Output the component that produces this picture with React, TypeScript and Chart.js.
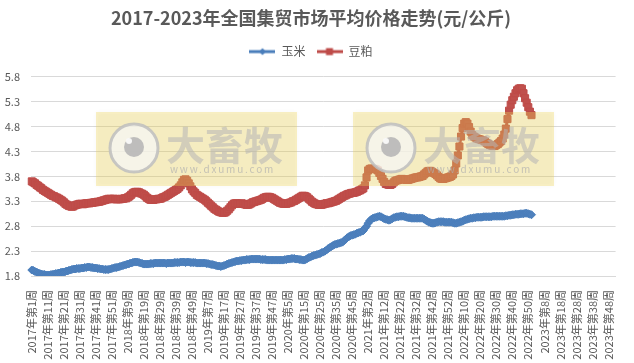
import React, { useEffect, useRef } from 'react';
import { Chart, registerables } from 'chart.js';

Chart.register(...registerables);

const TITLE = '2017-2023年全国集贸市场平均价格走势(元/公斤)';
const SERIES_NAMES = ['玉米', '豆粕'];
const YEARS = [2017, 2018, 2019, 2020, 2021, 2022, 2023];
const WEEKS_PER_YEAR = [52, 52, 52, 53, 52, 52, 52];
const Y_TICKS = { min: 1.8, max: 5.8, step: 0.5 };

// 玉米 (corn) weekly prices
const CORN_2017 = [
  1.92, 1.91, 1.89, 1.88, 1.86, 1.85, 1.84, 1.83, 1.83, 1.82,
  1.82, 1.82, 1.83, 1.83, 1.84, 1.85, 1.85, 1.86, 1.87, 1.88,
  1.88, 1.89, 1.90, 1.91, 1.92, 1.93, 1.94, 1.94, 1.95, 1.95,
  1.95, 1.96, 1.96, 1.97, 1.97, 1.98, 1.98, 1.97, 1.97, 1.96,
  1.96, 1.95, 1.95, 1.94, 1.94, 1.93, 1.93, 1.93, 1.93, 1.94,
  1.95, 1.96,
];
const CORN_2018 = [
  1.97, 1.97, 1.98, 1.99, 2.00, 2.01, 2.02, 2.03, 2.04, 2.05,
  2.06, 2.07, 2.08, 2.08, 2.08, 2.07, 2.06, 2.05, 2.04, 2.04,
  2.04, 2.04, 2.05, 2.05, 2.05, 2.06, 2.06, 2.06, 2.06, 2.06,
  2.06, 2.06, 2.05, 2.06, 2.06, 2.06, 2.06, 2.07, 2.07, 2.07,
  2.07, 2.08, 2.08, 2.08, 2.07, 2.08, 2.08, 2.07, 2.07, 2.07,
  2.07, 2.06,
];
const CORN_2019 = [
  2.06, 2.06, 2.06, 2.06, 2.06, 2.05, 2.05, 2.04, 2.03, 2.03,
  2.02, 2.01, 2.00, 2.00, 1.99, 2.00, 2.01, 2.02, 2.04, 2.05,
  2.06, 2.07, 2.08, 2.09, 2.10, 2.10, 2.11, 2.11, 2.12, 2.12,
  2.13, 2.13, 2.13, 2.14, 2.14, 2.14, 2.14, 2.14, 2.14, 2.13,
  2.13, 2.13, 2.13, 2.12, 2.12, 2.12, 2.12, 2.12, 2.12, 2.12,
  2.12, 2.12,
];
const CORN_2020 = [
  2.12, 2.12, 2.13, 2.13, 2.14, 2.14, 2.15, 2.15, 2.15, 2.14,
  2.14, 2.13, 2.13, 2.12, 2.12, 2.13, 2.15, 2.17, 2.18, 2.20,
  2.21, 2.22, 2.23, 2.24, 2.25, 2.27, 2.28, 2.30, 2.32, 2.35,
  2.37, 2.39, 2.41, 2.43, 2.44, 2.45, 2.46, 2.47, 2.48, 2.51,
  2.54, 2.57, 2.59, 2.61, 2.62, 2.63, 2.64, 2.66, 2.67, 2.68,
  2.70, 2.71, 2.76,
];
const CORN_2021 = [
  2.80, 2.86, 2.91, 2.94, 2.96, 2.97, 2.98, 2.99, 3.00, 2.99,
  2.97, 2.95, 2.94, 2.93, 2.92, 2.93, 2.95, 2.97, 2.98, 2.99,
  2.99, 3.00, 3.00, 3.00, 2.99, 2.98, 2.97, 2.97, 2.96, 2.96,
  2.96, 2.96, 2.96, 2.96, 2.96, 2.96, 2.94, 2.92, 2.90, 2.88,
  2.87, 2.86, 2.86, 2.87, 2.88, 2.89, 2.89, 2.89, 2.89, 2.88,
  2.88, 2.88,
];
const CORN_2022 = [
  2.88, 2.88, 2.87, 2.86, 2.86, 2.87, 2.88, 2.89, 2.90, 2.92,
  2.93, 2.94, 2.95, 2.96, 2.96, 2.97, 2.97, 2.98, 2.98, 2.98,
  2.98, 2.99, 2.99, 2.99, 2.99, 2.99, 2.99, 3.00, 3.00, 3.00,
  3.00, 3.00, 3.00, 3.00, 3.00, 3.01, 3.01, 3.02, 3.02, 3.03,
  3.03, 3.04, 3.04, 3.04, 3.05, 3.05, 3.05, 3.06, 3.06, 3.05,
  3.04, 3.03,
];

// 豆粕 (soybean meal) weekly prices
const MEAL_2017 = [
  3.70, 3.68, 3.66, 3.63, 3.61, 3.58, 3.56, 3.53, 3.51, 3.49,
  3.47, 3.45, 3.43, 3.41, 3.40, 3.38, 3.37, 3.35, 3.33, 3.31,
  3.28, 3.25, 3.23, 3.21, 3.20, 3.19, 3.20, 3.22, 3.23, 3.24,
  3.25, 3.25, 3.24, 3.25, 3.26, 3.26, 3.26, 3.27, 3.27, 3.28,
  3.28, 3.29, 3.29, 3.30, 3.31, 3.32, 3.33, 3.34, 3.35, 3.35,
  3.34, 3.35,
];
const MEAL_2018 = [
  3.35, 3.34, 3.34, 3.34, 3.35, 3.35, 3.36, 3.36, 3.38, 3.40,
  3.43, 3.46, 3.48, 3.49, 3.49, 3.48, 3.46, 3.45, 3.43, 3.40,
  3.37, 3.35, 3.33, 3.33, 3.33, 3.34, 3.34, 3.35, 3.35, 3.36,
  3.38, 3.39, 3.41, 3.43, 3.45, 3.47, 3.49, 3.51, 3.53, 3.55,
  3.58, 3.62, 3.68, 3.73, 3.74, 3.71, 3.66, 3.60, 3.54, 3.50,
  3.47, 3.43,
];
const MEAL_2019 = [
  3.41, 3.39, 3.37, 3.35, 3.33, 3.30, 3.27, 3.24, 3.21, 3.18,
  3.15, 3.13, 3.11, 3.09, 3.08, 3.07, 3.07, 3.08, 3.11, 3.14,
  3.18, 3.22, 3.25, 3.26, 3.26, 3.25, 3.25, 3.26, 3.25, 3.24,
  3.23, 3.23, 3.24, 3.26, 3.28, 3.29, 3.30, 3.31, 3.32, 3.33,
  3.35, 3.37, 3.38, 3.39, 3.39, 3.38, 3.37, 3.35, 3.33, 3.31,
  3.29, 3.27,
];
const MEAL_2020 = [
  3.26, 3.25, 3.25, 3.25, 3.26, 3.27, 3.28, 3.30, 3.31, 3.33,
  3.35, 3.37, 3.39, 3.41, 3.41, 3.40, 3.38, 3.35, 3.32, 3.29,
  3.27, 3.25, 3.24, 3.23, 3.23, 3.23, 3.24, 3.25, 3.26, 3.26,
  3.27, 3.28, 3.29, 3.30, 3.31, 3.33, 3.35, 3.37, 3.39, 3.41,
  3.42, 3.44, 3.45, 3.46, 3.47, 3.47, 3.48, 3.49, 3.51, 3.52,
  3.54, 3.56, 3.62,
];
const MEAL_2021 = [
  3.78, 3.92, 3.95, 3.96, 3.95, 3.95, 3.94, 3.92, 3.87, 3.81,
  3.75, 3.69, 3.65, 3.64, 3.63, 3.63, 3.65, 3.68, 3.71, 3.72,
  3.73, 3.74, 3.75, 3.74, 3.74, 3.73, 3.73, 3.74, 3.75, 3.76,
  3.77, 3.78, 3.78, 3.79, 3.80, 3.81, 3.84, 3.87, 3.90, 3.91,
  3.91, 3.89, 3.87, 3.85, 3.82, 3.79, 3.76, 3.75, 3.75, 3.76,
  3.77, 3.78,
];
const MEAL_2022 = [
  3.79, 3.81, 3.84, 3.92, 4.06, 4.22, 4.40, 4.60, 4.77, 4.86,
  4.89, 4.86, 4.79, 4.70, 4.63, 4.60, 4.58, 4.56, 4.55, 4.54,
  4.53, 4.52, 4.50, 4.47, 4.45, 4.43, 4.42, 4.41, 4.41, 4.43,
  4.45, 4.48, 4.51, 4.56, 4.64, 4.76, 4.95, 5.12, 5.24, 5.33,
  5.40, 5.47, 5.53, 5.56, 5.57, 5.56, 5.47, 5.37, 5.28, 5.19,
  5.10, 5.03,
];

const CORN = [...CORN_2017, ...CORN_2018, ...CORN_2019, ...CORN_2020, ...CORN_2021, ...CORN_2022];
const MEAL = [...MEAL_2017, ...MEAL_2018, ...MEAL_2019, ...MEAL_2020, ...MEAL_2021, ...MEAL_2022];

const LABELS: string[] = [];
YEARS.forEach((y, i) => {
  for (let w = 1; w <= WEEKS_PER_YEAR[i]; w++) LABELS.push(`${y}年第${w}周`);
});

const FONT = '"Noto Sans CJK SC", "Noto Sans", sans-serif';
const TEXT = '#595959';
const GRID = '#d9d9d9';
const BLUE = '#4A7EBB';
const RED = '#BE4B48';

function legendIcon(color: string, shape: 'diamond' | 'square') {
  const c = document.createElement('canvas');
  c.width = 26;
  c.height = 10;
  const g = c.getContext('2d')!;
  g.strokeStyle = color;
  g.lineWidth = 3;
  g.beginPath();
  g.moveTo(0, 5);
  g.lineTo(26, 5);
  g.stroke();
  g.fillStyle = color;
  if (shape === 'diamond') {
    g.beginPath();
    g.moveTo(13, 1.5);
    g.lineTo(16.5, 5);
    g.lineTo(13, 8.5);
    g.lineTo(9.5, 5);
    g.closePath();
    g.fill();
  } else {
    g.fillRect(9.5, 1.5, 7, 7);
  }
  return c;
}

const watermarkPlugin = {
  id: 'watermark',
  afterDatasetsDraw(chart: any) {
    const ctx = chart.ctx as CanvasRenderingContext2D;
    const boxes = [96, 353];
    boxes.forEach((x0) => {
      ctx.save();
      ctx.shadowColor = 'rgba(0,0,0,0.10)';
      ctx.shadowBlur = 4;
      ctx.fillStyle = 'rgba(240,215,90,0.35)';
      ctx.fillRect(x0, 112, 201, 74);
      ctx.shadowColor = 'transparent';
      ctx.shadowBlur = 0;
      const cx = x0 + 38;
      const cy = 148;
      ctx.fillStyle = 'rgba(245,245,245,0.75)';
      ctx.beginPath();
      ctx.arc(cx, cy, 24, 0, Math.PI * 2);
      ctx.fill();
      ctx.strokeStyle = 'rgba(190,190,190,0.85)';
      ctx.lineWidth = 3;
      ctx.stroke();
      ctx.fillStyle = 'rgba(180,180,180,0.85)';
      ctx.beginPath();
      ctx.arc(cx, cy - 1, 10, 0, Math.PI * 2);
      ctx.fill();
      ctx.fillStyle = 'rgba(250,250,250,0.95)';
      ctx.beginPath();
      ctx.arc(cx - 5, cy - 7, 3, 0, Math.PI * 2);
      ctx.fill();
      ctx.fillStyle = 'rgba(180,180,180,0.55)';
      ctx.font = `bold 39px ${FONT}`;
      ctx.textBaseline = 'middle';
      ctx.textAlign = 'left';
      ctx.fillText('大畜牧', x0 + 70, 145);
      ctx.font = `10px ${FONT}`;
      ctx.fillStyle = 'rgba(175,175,175,0.7)';
      (ctx as any).letterSpacing = '1.8px';
      ctx.fillText('www.dxumu.com', x0 + 74, 169);
      ctx.restore();
    });
  },
};

export default function App() {
  const ref = useRef<HTMLCanvasElement>(null);

  useEffect(() => {
    document.body.style.margin = '0';
    const icons = [legendIcon(BLUE, 'diamond'), legendIcon(RED, 'square')];
    const chart = new Chart(ref.current!, {
      type: 'line',
      data: {
        labels: LABELS,
        datasets: [
          {
            label: SERIES_NAMES[0],
            data: CORN,
            borderColor: BLUE,
            backgroundColor: BLUE,
            borderWidth: 3,
            pointStyle: 'rectRot',
            pointRadius: 4,
            pointBorderWidth: 1,
            pointBackgroundColor: '#4F81BD',
            pointBorderColor: BLUE,
            tension: 0,
          },
          {
            label: SERIES_NAMES[1],
            data: MEAL,
            borderColor: RED,
            backgroundColor: RED,
            borderWidth: 3,
            pointStyle: 'rect',
            pointRadius: 5,
            pointBorderWidth: 1,
            pointBackgroundColor: '#C0504D',
            pointBorderColor: RED,
            tension: 0,
          },
        ],
      },
      options: {
        responsive: false,
        animation: false,
        devicePixelRatio: 1,
        layout: { padding: { left: 0, right: 12, top: 0, bottom: 0 } },
        plugins: {
          tooltip: { enabled: false },
          title: {
            display: true,
            text: TITLE,
            color: TEXT,
            font: { family: FONT, size: 18, weight: 'bold' },
            padding: { top: 7, bottom: 6 },
          },
          subtitle: {
            display: true,
            text: ' ',
            font: { size: 1 },
            padding: { top: 0, bottom: 8 },
          },
          legend: {
            display: true,
            position: 'top',
            weight: 1600,
            labels: {
              usePointStyle: true,
              pointStyleWidth: 26,
              boxHeight: 10,
              padding: 11,
              color: TEXT,
              font: { family: FONT, size: 12 },
              generateLabels: (c: any) => {
                const items = (Chart.defaults.plugins.legend.labels as any).generateLabels(c);
                return items.map((it: any, i: number) => ({ ...it, pointStyle: icons[i] }));
              },
            },
          } as any,
        },
        scales: {
          x: {
            type: 'category',
            offset: true,
            grid: { display: false },
            border: { display: true, color: GRID },
            afterFit: (s: any) => {
              s.height = 87;
            },
            ticks: {
              autoSkip: false,
              maxRotation: 90,
              minRotation: 90,
              color: TEXT,
              padding: 6,
              font: { family: FONT, size: 11 },
              callback: (_v: any, i: number) => (i % 10 === 0 ? LABELS[i] : ''),
            },
          },
          y: {
            min: Y_TICKS.min,
            max: Y_TICKS.max,
            grid: { color: GRID, drawTicks: false },
            border: { display: false },
            afterFit: (s: any) => {
              s.width = 31;
            },
            ticks: {
              stepSize: Y_TICKS.step,
              color: TEXT,
              padding: 11,
              font: { family: FONT, size: 11 },
              callback: (v: any) => Number(v).toFixed(1),
            },
          },
        },
      },
      plugins: [watermarkPlugin],
    });
    return () => chart.destroy();
  }, []);

  return (
    <div style={{ width: 634, height: 363 }}>
      <canvas ref={ref} width={634} height={363} />
    </div>
  );
}
